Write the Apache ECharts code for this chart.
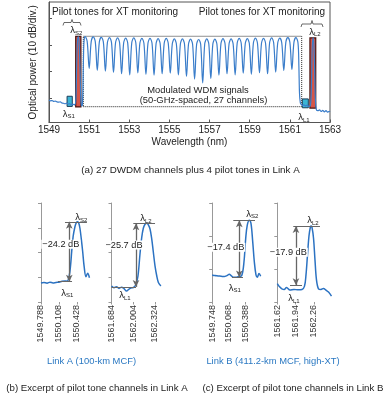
<!DOCTYPE html>
<html><head><meta charset="utf-8">
<script src="https://cdn.jsdelivr.net/npm/echarts@6/dist/echarts.min.js"></script>
<style>html,body{margin:0;padding:0;background:#fff}#c{width:388px;height:398px}</style>
</head><body><div id="c"></div>
<script>
// ---------- (a) full spectrum, Link A ----------
const ticksA = [1549, 1551, 1553, 1555, 1557, 1559, 1561, 1563];
const floorLeftWl = [1549.00,1549.08,1549.16,1549.24,1549.32,1549.40,1549.48,1549.56,1549.64,1549.72,1549.80,1549.88,1549.96,1550.04,1550.12,1550.20,1550.28,1550.34,1550.38,1550.42,1550.46,1550.50,1550.54,1550.58,1550.62];
const floorLeftDb = [-70.6,-70.9,-70.8,-71.1,-71.0,-71.3,-71.4,-71.3,-71.7,-71.8,-72.0,-71.8,-72.1,-72.0,-72.3,-72.2,-72.4,-70.0,-58.0,-48.5,-47.0,-49.0,-58.0,-69.0,-72.8];
const wdmWl = [1550.660,1550.690,1550.720,1550.750,
 1550.800,1550.901,1551.002,1551.103, 1551.204,1551.305,1551.406,1551.507,
 1551.608,1551.709,1551.810,1551.911, 1552.012,1552.113,1552.214,1552.315,
 1552.416,1552.517,1552.618,1552.719, 1552.820,1552.921,1553.022,1553.123,
 1553.224,1553.325,1553.426,1553.527, 1553.628,1553.729,1553.830,1553.931,
 1554.032,1554.133,1554.234,1554.335, 1554.436,1554.537,1554.638,1554.739,
 1554.840,1554.941,1555.042,1555.143, 1555.244,1555.345,1555.446,1555.547,
 1555.648,1555.749,1555.850,1555.951, 1556.052,1556.153,1556.254,1556.355,
 1556.456,1556.557,1556.658,1556.759, 1556.860,1556.961,1557.062,1557.163,
 1557.264,1557.365,1557.466,1557.567, 1557.668,1557.769,1557.870,1557.971,
 1558.072,1558.173,1558.274,1558.375, 1558.476,1558.577,1558.678,1558.779,
 1558.880,1558.981,1559.082,1559.183, 1559.284,1559.385,1559.486,1559.587,
 1559.688,1559.789,1559.890,1559.991, 1560.092,1560.193,1560.294,1560.395,
 1560.496,1560.597,1560.698,1560.799, 1560.900,1561.001,1561.102,1561.203,
 1561.304,1561.405];
const wdmDb = [-72.5,-66.0,-54.0,-48.3,
 -46.9,-48.7,-58.8,-48.8, -47.0,-48.8,-59.5,-49.0,
 -47.2,-49.0,-59.8,-49.1, -47.3,-49.1,-60.3,-49.2,
 -47.4,-49.2,-60.8,-49.3, -47.5,-49.3,-61.2,-49.2,
 -47.4,-49.2,-60.5,-49.4, -47.6,-49.4,-61.0,-49.4,
 -47.6,-49.4,-61.3,-49.5, -47.7,-49.5,-60.8,-49.4,
 -47.6,-49.4,-60.6,-49.6, -47.8,-49.6,-61.2,-49.6,
 -47.8,-49.6,-61.8,-49.7, -47.9,-49.7,-62.8,-49.8,
 -48.0,-49.8,-64.2,-49.6, -47.8,-49.6,-62.6,-49.7,
 -47.9,-49.7,-61.3,-49.5, -47.7,-49.5,-60.8,-49.6,
 -47.8,-49.6,-61.2,-49.4, -47.6,-49.4,-60.6,-49.5,
 -47.7,-49.5,-61.0,-49.3, -47.5,-49.3,-60.4,-49.4,
 -47.6,-49.4,-60.8,-49.2, -47.4,-49.2,-60.2,-49.3,
 -47.5,-49.3,-59.6,-49.1, -47.3,-49.1,-59.2,-49.1,
 -47.3,-49.2];
const floorRightWl = [1561.450,1561.480,1561.520,1561.560,1561.620,1561.700,1561.780,1561.860,1561.940,1562.020,1562.070,1562.110,1562.150,1562.190,1562.230,1562.270,1562.320,1562.400,1562.480,1562.560,1562.640,1562.720,1562.800,1562.880,1562.960,1563.000];
const floorRightDb = [-58.0,-68.0,-71.6,-72.2,-72.6,-72.4,-72.8,-72.5,-73.0,-72.8,-66.0,-52.0,-47.4,-49.0,-58.0,-70.0,-74.2,-74.6,-74.3,-74.9,-74.5,-75.0,-74.6,-75.1,-74.8,-75.0];

// pilot tones (S1, S2, L1, L2) and WDM block extent
const pilotWlStart = [1549.90, 1550.33, 1561.62, 1562.00];
const pilotWlEnd   = [1550.16, 1550.59, 1561.92, 1562.29];
const pilotDbLow   = [-73.0, -73.2, -73.5, -73.6];
const pilotDbHigh  = [-69.2, -46.8, -70.2, -47.4];
const wdmBoxWl = [1550.71, 1561.59];
const wdmBoxDb = [-73.1, -46.8];

// ---------- (b) Link A excerpts ----------
const ticksB1 = [1549.788, 1550.108, 1550.428];
const bSWl = [1549.788,1549.841,1549.895,1549.948,1550.001,1550.055,1550.108,1550.161,1550.215,1550.250,1550.290,1550.315,1550.334,1550.360,1550.392,1550.415,1550.440,1550.462,1550.481,1550.505,1550.530,1550.555,1550.588,1550.618,1550.650];
const bSDb = [-72.3,-72.1,-72.4,-72.0,-72.3,-72.1,-72.0,-71.6,-71.5,-71.6,-69.5,-65.0,-59.7,-53.5,-49.6,-48.0,-47.6,-48.3,-50.2,-54.5,-59.7,-65.5,-69.8,-68.4,-70.2];
const ticksB2 = [1561.684, 1562.004, 1562.324];
const bLWl = [1561.684,1561.721,1561.758,1561.795,1561.832,1561.869,1561.906,1561.943,1561.979,1562.016,1562.046,1562.075,1562.105,1562.130,1562.154,1562.179,1562.204,1562.228,1562.253,1562.278,1562.301,1562.327,1562.352,1562.375,1562.400,1562.415];
const bLDb = [-73.6,-74.2,-73.8,-74.5,-74.0,-74.6,-75.6,-74.8,-74.3,-74.0,-72.8,-69.5,-60.5,-54.0,-50.2,-48.6,-48.2,-48.8,-50.5,-54.5,-59.7,-65.5,-69.4,-72.0,-73.1,-73.5];

// ---------- (c) Link B excerpts ----------
const ticksC1 = [1549.748, 1550.068, 1550.388];
const cSWl = [1549.748,1549.800,1549.860,1549.920,1549.980,1550.030,1550.076,1550.110,1550.152,1550.200,1550.248,1550.313,1550.357,1550.390,1550.420,1550.459,1550.491,1550.524,1550.555,1550.587,1550.612,1550.645,1550.677];
const cSDb = [-71.8,-72.0,-72.1,-72.2,-72.3,-72.0,-71.6,-72.0,-72.5,-72.5,-72.3,-72.0,-67.8,-60.7,-56.7,-55.2,-56.2,-61.7,-67.8,-71.8,-72.5,-71.4,-72.2];
const ticksC2 = [1561.62, 1561.94, 1562.26];
const cLWl = [1561.620,1561.660,1561.700,1561.740,1561.781,1561.842,1561.911,1561.981,1562.051,1562.095,1562.121,1562.147,1562.173,1562.199,1562.212,1562.226,1562.252,1562.278,1562.304,1562.339,1562.383,1562.426,1562.470,1562.514,1562.566];
const cLDb = [-74.4,-75.4,-76.0,-76.2,-75.6,-76.4,-76.2,-76.3,-76.2,-75.2,-71.8,-65.8,-60.0,-57.2,-57.0,-57.4,-60.6,-67.3,-73.3,-76.0,-76.2,-75.9,-76.4,-77.0,-78.2];

// crosstalk annotations: [panel] peak level, ratio, arrow wavelength
const xtLabels = ['−24.2 dB', '−25.7 dB', '−17.4 dB', '−17.9 dB'];
const xtRatio  = [-24.2, -25.7, -17.4, -17.9];
const xtPeakDb = [-47.6, -48.2, -55.2, -57.0];
const xtArrowWl = [1550.291, 1562.046, 1550.267, 1561.946];
const xtPeakLineWl = [[1550.215, 1550.606], [1562.006, 1562.327], [1550.152, 1550.568], [1561.899, 1562.365]];
const xtBaseLineWl = [[1550.09, 1550.34], [1561.684, 1562.046], [1550.127, 1550.338], [1561.842, 1562.051]];

// ---------- chart ----------
const FONT = '"Liberation Sans", Arial, Helvetica, sans-serif';
const zip = (a, b) => a.map((v, i) => [v, b[i]]);
const chart = echarts.init(document.getElementById('c'), null, {renderer: 'canvas'});

const pilotStyles = [
  {color: '#3bb5d5', borderColor: '#1c3c58', borderWidth: 1},
  {color: '#d65548', borderColor: '#4a1512', borderWidth: 1.2},
  {color: '#3bb5d5', borderColor: '#1c3c58', borderWidth: 1},
  {color: '#d65548', borderColor: '#4a1512', borderWidth: 1.2}
];
const areas = pilotWlStart.map((s, i) => [
  {xAxis: s, yAxis: pilotDbLow[i], itemStyle: pilotStyles[i]},
  {xAxis: pilotWlEnd[i], yAxis: pilotDbHigh[i]}
]);
areas.unshift([
  {xAxis: wdmBoxWl[0], yAxis: wdmBoxDb[0], itemStyle: {color: 'rgba(0,0,0,0)', borderColor: '#222', borderWidth: 1, borderType: 'dotted'}},
  {xAxis: wdmBoxWl[1], yAxis: wdmBoxDb[1]}
]);

const subGrids = [
  {left: 41, top: 203, width: 49, height: 99},
  {left: 111.5, top: 203, width: 49.5, height: 99},
  {left: 212.2, top: 203, width: 48.8, height: 99},
  {left: 277.3, top: 203, width: 54.7, height: 99}
];
const subX = [
  [ticksB1, 1549.788, 1550.66],
  [ticksB2, 1561.684, 1562.415],
  [ticksC1, 1549.748, 1550.683],
  [ticksC2, 1561.62, 1562.575]
];
const subY = [[-80, -40], [-80, -40], [-80, -50], [-80, -50]];
const subData = [zip(bSWl, bSDb), zip(bLWl, bLDb), zip(cSWl, cSDb), zip(cLWl, cLDb)];

const grids = [{left: 49, top: 2, width: 281, height: 120.5, show: true, borderColor: '#555', borderWidth: 1, outerBoundsMode: 'none'}]
  .concat(subGrids.map(g => Object.assign({outerBoundsMode: 'none'}, g)));

const xAxes = [{
  gridIndex: 0, type: 'value', min: 1549, max: 1563,
  axisLine: {show: true, lineStyle: {color: '#555', width: 1}},
  axisTick: {show: true, inside: true, length: 3, customValues: ticksA, lineStyle: {color: '#555'}},
  axisLabel: {customValues: ticksA, fontSize: 10, color: '#222', margin: 3, fontFamily: FONT, formatter: v => String(v)},
  splitLine: {show: false},
  name: 'Wavelength (nm)', nameLocation: 'middle', nameGap: 15,
  nameTextStyle: {fontSize: 10, color: '#222', fontFamily: FONT}
}].concat(subX.map((s, i) => ({
  gridIndex: i + 1, type: 'value', min: s[1], max: s[2],
  axisLine: {show: false},
  axisTick: {show: true, length: 2.5, customValues: s[0], lineStyle: {color: '#999'}},
  axisLabel: {customValues: s[0], rotate: 90, fontSize: 9, color: '#333', margin: 3, fontFamily: FONT, formatter: v => String(v)},
  splitLine: {show: false}
})));

const yAxes = [{
  gridIndex: 0, type: 'value', min: -79, max: -34,
  axisLine: {show: true, lineStyle: {color: '#555'}},
  axisTick: {show: true, inside: true, length: 3, customValues: [-70, -60, -50, -40], lineStyle: {color: '#555'}},
  axisLabel: {show: false}, splitLine: {show: false},
  name: 'Optical power (10 dB/div.)', nameLocation: 'middle', nameGap: 11, nameRotate: 90,
  nameTextStyle: {fontSize: 10, color: '#222', fontFamily: FONT}
}].concat(subY.map((r, i) => ({
  gridIndex: i + 1, type: 'value', min: r[0], max: r[1], interval: 10,
  axisLine: {show: true, lineStyle: {color: '#999'}},
  axisTick: {show: true, length: 3, lineStyle: {color: '#999'}},
  axisLabel: {show: false}, splitLine: {show: false}
})));

function seg(x0, x1, y0, y1, arrow) {
  const sym = arrow ? 'arrow' : 'none';
  const ls = arrow ? {color: '#666', width: 1.3, type: 'solid'} : {color: '#666', width: 1, type: 'solid'};
  return [{coord: [x0, y0], symbol: sym, symbolSize: [5, 7], lineStyle: ls},
          {coord: [x1, y1], symbol: sym, symbolSize: [5, 7], lineStyle: ls}];
}

const series = [{
  type: 'line', xAxisIndex: 0, yAxisIndex: 0, data: zip(floorLeftWl.concat(wdmWl, floorRightWl), floorLeftDb.concat(wdmDb, floorRightDb)),
  symbol: 'none', smooth: 0.35, lineStyle: {color: '#3a7dca', width: 1.2}, z: 3, silent: true,
  markArea: {silent: true, data: areas}
}].concat(subData.map((d, i) => {
  const pk = xtPeakDb[i], base = xtPeakDb[i] + xtRatio[i];
  return {
    type: 'line', xAxisIndex: i + 1, yAxisIndex: i + 1, data: d, symbol: 'none', smooth: 0.35,
    lineStyle: {color: '#2b72c2', width: 1.5}, z: 3, silent: true,
    markLine: {
      silent: true, animation: false, label: {show: false}, symbol: ['none', 'none'],
      data: [
        seg(xtPeakLineWl[i][0], xtPeakLineWl[i][1], pk, pk, false),
        seg(xtBaseLineWl[i][0], xtBaseLineWl[i][1], base, base, false),
        seg(xtArrowWl[i], xtArrowWl[i], pk, base, true)
      ]
    }
  };
}));

function txt(x, y, s, size, color, align, extra) {
  return Object.assign({
    type: 'text', x: x, y: y, z: 20,
    style: Object.assign({text: s, fontSize: size, fontFamily: FONT, fill: color || '#222',
      align: align || 'center', textAlign: align || 'center', verticalAlign: 'middle', textVerticalAlign: 'middle'}, extra || {})
  });
}
function lam(cx, cy, sub) {
  return [
    txt(cx - 1, cy, 'λ', 9.5, '#222', 'right'),
    txt(cx - 1, cy + 2.5, sub, 6, '#222', 'left')
  ];
}
const dbBox = {backgroundColor: '#fff', padding: [0, 1, 0, 1]};

const graphics = [
  txt(52, 12, 'Pilot tones for XT monitoring', 10, '#222', 'left'),
  txt(325, 12, 'Pilot tones for XT monitoring', 10, '#222', 'right'),
  {type: 'polyline', z: 20, shape: {points: [[63, 25.5], [64, 22.5], [71, 22.5], [72, 19.5], [73, 22.5], [80, 22.5], [81, 25.5]]}, style: {stroke: '#444', lineWidth: 0.8, fill: null}},
  {type: 'polyline', z: 20, shape: {points: [[301, 27], [302, 24], [311, 24], [312, 20.5], [313, 24], [322, 24], [323, 27]]}, style: {stroke: '#444', lineWidth: 0.8, fill: null}},
  txt(198, 90.7, 'Modulated WDM signals', 9.4),
  txt(203.5, 100.7, '(50-GHz-spaced, 27 channels)', 9.4),
  txt(190.5, 170, '(a) 27 DWDM channels plus 4 pilot tones in Link A', 9.8),
  txt(60.8, 244.3, xtLabels[0], 9.2, '#222', 'center', dbBox),
  txt(124, 245, xtLabels[1], 9.2, '#222', 'center', dbBox),
  txt(225.8, 247.3, xtLabels[2], 9.2, '#222', 'center', dbBox),
  txt(288.3, 252.3, xtLabels[3], 9.2, '#222', 'center', dbBox),
  txt(91.5, 361.5, 'Link A (100-km MCF)', 9.4, '#2a78c2'),
  txt(273, 361, 'Link B (411.2-km MCF, high-XT)', 9.4, '#2a78c2'),
  txt(97, 388.5, '(b) Excerpt of pilot tone channels in Link A', 9.7),
  txt(293, 388.5, '(c) Excerpt of pilot tone channels in Link B', 9.7)
].concat(
  lam(76, 30.5, 'S2'), lam(68.5, 114, 'S1'), lam(315, 32, 'L2'), lam(304, 117.5, 'L1'),
  lam(81, 217.5, 'S2'), lam(67, 293, 'S1'), lam(146, 218.5, 'L2'), lam(125, 295.5, 'L1'),
  lam(252, 214, 'S2'), lam(234.5, 288, 'S1'), lam(313, 220.5, 'L2'), lam(294, 298.5, 'L1')
);

chart.setOption({
  animation: false,
  backgroundColor: '#fff',
  textStyle: {fontFamily: FONT},
  grid: grids, xAxis: xAxes, yAxis: yAxes, series: series,
  graphic: {elements: graphics}
});
</script></body></html>
